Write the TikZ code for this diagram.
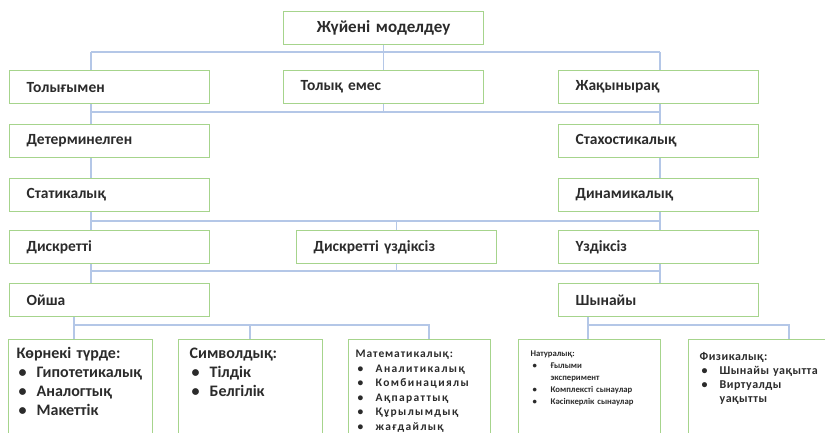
\documentclass[tikz,border=0pt]{standalone}
\usepackage{fontspec}
\setmainfont{Carlito}
\newfontfamily\mathhead[LetterSpace=8]{Carlito}
\newfontfamily\mathbody[LetterSpace=12]{Carlito}
\newfontfamily\physfont[LetterSpace=4]{Carlito}
\usepackage{xcolor}
\usepackage{tikz}

\definecolor{boxgreen}{HTML}{A6D48C}
\definecolor{linkblue}{HTML}{B4C7E7}
\definecolor{txtgray}{HTML}{2B2B2B}
\newcommand{\bul}{\hspace*{2pt}\makebox[18pt][l]{\textbullet}}
\newcommand{\mitem}[1]{\bul{\mathbody\bfseries #1}}

\begin{document}
\begin{tikzpicture}[x=1pt,y=-1pt,
	lvl/.style={draw=boxgreen, line width=1.3pt, anchor=north west, minimum height=33pt,
		text width=166pt, inner xsep=17pt, align=left, text=txtgray,
		font=\fontsize{15.5}{18}\selectfont\bfseries},
	leaf/.style={draw=boxgreen, line width=1.3pt, anchor=north west, text width=128pt,
		inner xsep=8pt, inner ysep=19pt, text height=0pt, text depth=110pt, align=left, text=txtgray},
	link/.style={draw=linkblue, line width=1.2pt}]
	\useasboundingbox (0,0) rectangle (825,433);
	\clip (0,0) rectangle (825,433);

	\node[lvl, align=center, font=\fontsize{17}{20}\selectfont\bfseries] (root) at (283,11) {Жүйені моделдеу};
	\node[lvl] (full) at (9,70) {Толығымен};
	\node[lvl] (partial) at (283,70) {Толық емес};
	\node[lvl] (approx) at (558,70) {Жақынырақ};
	\node[lvl] (determ) at (9,124) {Детерминелген};
	\node[lvl] (stoch) at (558,124) {Стахостикалық};
	\node[lvl] (static) at (9,178) {Статикалық};
	\node[lvl] (dynamic) at (558,178) {Динамикалық};
	\node[lvl] (discrete) at (9,230) {Дискретті};
	\node[lvl] (mixed) at (296,230) {Дискретті үздіксіз};
	\node[lvl] (cont) at (558,230) {Үздіксіз};
	\node[lvl] (mental) at (9,283) {Ойша};
	\node[lvl] (real) at (558,283) {Шынайы};

	\node[leaf, font=\fontsize{16}{19}\selectfont\bfseries] (visual) at (8,339)
		{Көрнекі түрде:\\\bul Гипотетикалық\\\bul Аналогтық\\\bul Макеттік};
	\node[leaf, inner xsep=11pt, text width=122pt, font=\fontsize{16}{19}\selectfont\bfseries] (symbolic) at (178,339)
		{Символдық:\\\bul Тілдік\\\bul Белгілік};
	\node[leaf, inner xsep=7pt, inner ysep=18pt, font=\fontsize{11.5}{14.5}\selectfont\bfseries] (math) at (348,339)
		{{\mathhead\bfseries Математикалық:}\\\mitem{Аналитикалық}\\\mitem{Комбинациялы}\\\mitem{Ақпараттық}\\\mitem{Құрылымдық}\\\mitem{жағдайлық}};
	\node[leaf, inner xsep=12pt, text width=118pt, inner ysep=17pt, font=\fontsize{8.7}{12}\selectfont\bfseries] (natural) at (518,339)
		{Натуралық:\\\bul Ғылыми\\\hspace*{20pt}эксперимент\\\bul Комплексті сынаулар\\\bul Кәсіпкерлік сынаулар};
	\node[leaf, inner xsep=11pt, inner ysep=21pt, font=\fontsize{12}{14}\selectfont\physfont\bfseries] (physical) at (688,339)
		{Физикалық:\\\bul Шынайы уақытта\\\bul Виртуалды\\\hspace*{20pt}уақытты};

	\coordinate (L) at (91,0);
	\coordinate (R) at (660,0);
	\coordinate (b1) at (0,52);
	\coordinate (b2) at (0,112);
	\coordinate (b3) at (0,221);
	\coordinate (b4) at (0,271);
	\coordinate (b5) at (0,325);
	\coordinate (vx) at (74,0);
	\coordinate (sx) at (250,0);
	\coordinate (mx) at (429,0);
	\coordinate (nx) at (588,0);
	\coordinate (px) at (789,0);

	\draw[link] (L |- b1) -- (R |- b1);
	\draw[link] (root.south) -- (partial.north);
	\draw[link] (L |- b1) -- (L |- full.north);
	\draw[link] (R |- b1) -- (R |- approx.north);

	\draw[link] (L |- b2) -- (R |- b2);
	\draw[link] (partial.south) -- (partial.south |- b2);
	\draw[link] (L |- full.south) -- (L |- determ.north);
	\draw[link] (R |- approx.south) -- (R |- stoch.north);
	\draw[link] (L |- determ.south) -- (L |- static.north);
	\draw[link] (R |- stoch.south) -- (R |- dynamic.north);

	\draw[link] (L |- b3) -- (R |- b3);
	\draw[link] (L |- static.south) -- (L |- discrete.north);
	\draw[link] (mixed.north |- b3) -- (mixed.north);
	\draw[link] (R |- dynamic.south) -- (R |- cont.north);

	\draw[link] (L |- b4) -- (R |- b4);
	\draw[link] (mixed.south) -- (mixed.south |- b4);
	\draw[link] (L |- discrete.south) -- (L |- mental.north);
	\draw[link] (R |- cont.south) -- (R |- real.north);

	\draw[link] (vx |- mental.south) -- (vx |- visual.north);
	\draw[link] (vx |- b5) -- (mx |- b5) -- (mx |- math.north);
	\draw[link] (sx |- b5) -- (sx |- symbolic.north);
	\draw[link] (nx |- real.south) -- (nx |- natural.north);
	\draw[link] (nx |- b5) -- (px |- b5) -- (px |- physical.north);
\end{tikzpicture}
\end{document}
